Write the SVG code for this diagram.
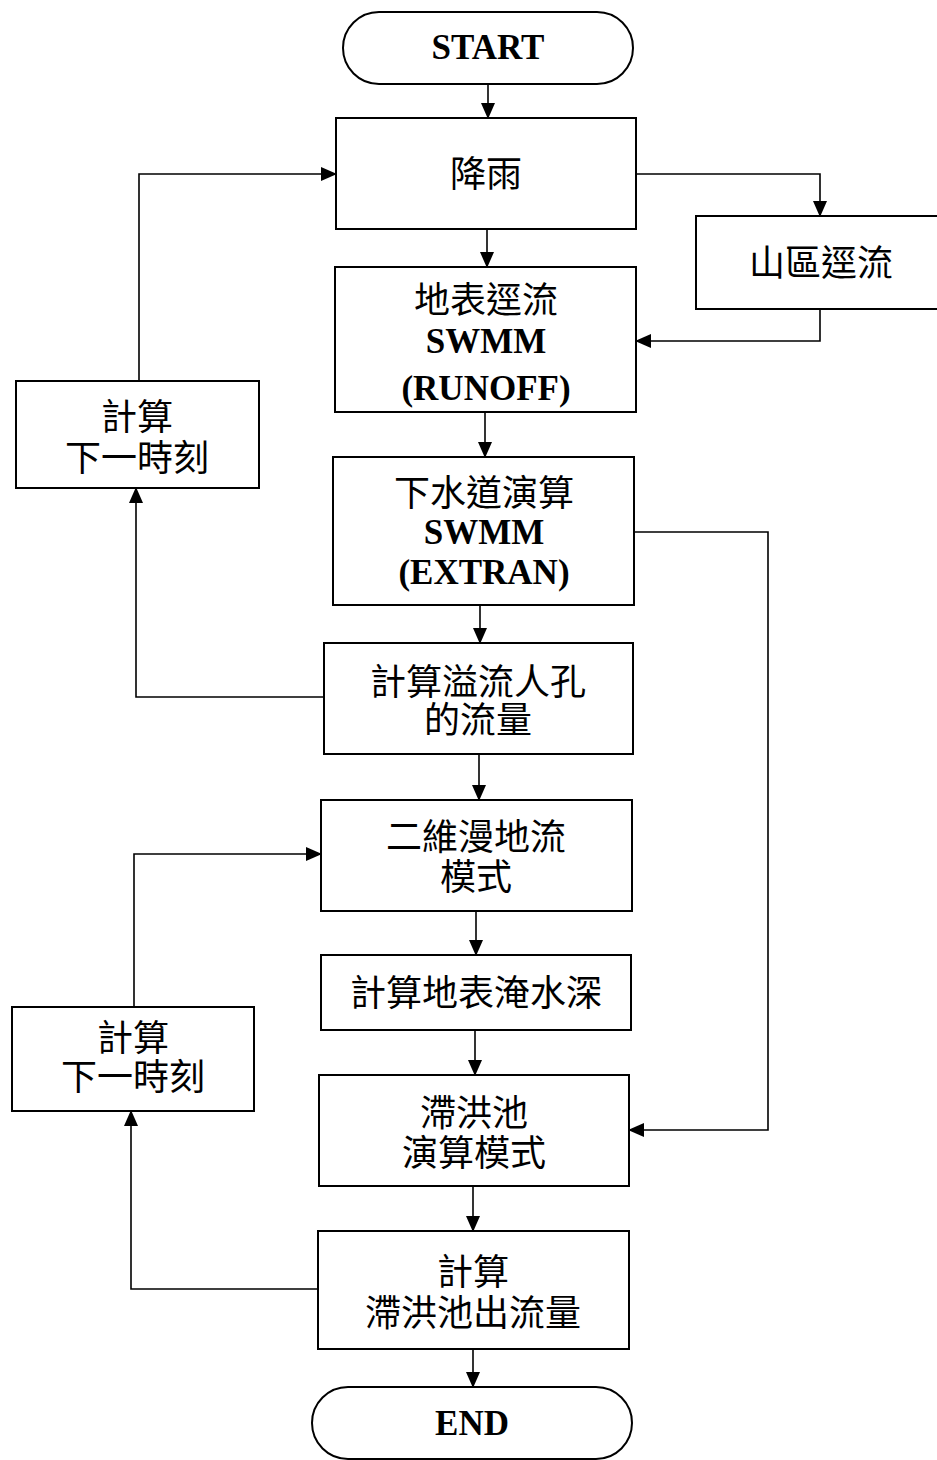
<svg xmlns="http://www.w3.org/2000/svg" width="937" height="1460" viewBox="0 0 937 1460">
<style>
.box{fill:#fff;stroke:#000;stroke-width:2}
.cn{font-family:"Noto Sans CJK TC","Noto Sans CJK SC",sans-serif;font-size:36px;text-anchor:middle;fill:#000}
.en{font-family:"Liberation Serif",serif;font-size:35px;font-weight:bold;text-anchor:middle;fill:#000}
.ln{fill:none;stroke:#000;stroke-width:1.6}
</style>
<defs>
<marker id="ah" markerUnits="userSpaceOnUse" markerWidth="16" markerHeight="14" refX="15" refY="7" orient="auto">
<path d="M0,0 L16,7 L0,14 Z" fill="#000"/>
</marker>
</defs>
<rect width="937" height="1460" fill="#fff"/>
<g id="connectors">
<path class="ln" d="M488,84 V118" marker-end="url(#ah)"/>
<path class="ln" d="M487,229 V267" marker-end="url(#ah)"/>
<path class="ln" d="M636,174 H820 V216" marker-end="url(#ah)"/>
<path class="ln" d="M820,309 V341 H636" marker-end="url(#ah)"/>
<path class="ln" d="M485,412 V457" marker-end="url(#ah)"/>
<path class="ln" d="M480,605 V643" marker-end="url(#ah)"/>
<path class="ln" d="M324,697 H136 V488" marker-end="url(#ah)"/>
<path class="ln" d="M139,381 V174 H336" marker-end="url(#ah)"/>
<path class="ln" d="M634,532 H768 V1130 H629" marker-end="url(#ah)"/>
<path class="ln" d="M479,754 V800" marker-end="url(#ah)"/>
<path class="ln" d="M476,911 V955" marker-end="url(#ah)"/>
<path class="ln" d="M475,1030 V1075" marker-end="url(#ah)"/>
<path class="ln" d="M473,1186 V1231" marker-end="url(#ah)"/>
<path class="ln" d="M318,1289 H131 V1111" marker-end="url(#ah)"/>
<path class="ln" d="M134,1007 V854 H321" marker-end="url(#ah)"/>
<path class="ln" d="M473,1349 V1387" marker-end="url(#ah)"/>
</g>
<g id="start">
<rect class="box" x="343" y="12" width="290" height="72" rx="36"/>
<text class="en" x="488" y="59">START</text>
</g>
<g id="rain">
<rect class="box" x="336" y="118" width="300" height="111"/>
<text class="cn" x="486" y="187">降雨</text>
</g>
<g id="mountain">
<rect class="box" x="696" y="216" width="260" height="93"/>
<text class="cn" x="821" y="276">山區逕流</text>
</g>
<g id="runoff">
<rect class="box" x="335" y="267" width="301" height="145"/>
<text class="cn" x="486" y="313">地表逕流</text>
<text class="en" x="486" y="353">SWMM</text>
<text class="en" x="486" y="400">(RUNOFF)</text>
</g>
<g id="next1">
<rect class="box" x="16" y="381" width="243" height="107"/>
<text class="cn" x="137" y="430">計算</text>
<text class="cn" x="137" y="471">下一時刻</text>
</g>
<g id="extran">
<rect class="box" x="333" y="457" width="301" height="148"/>
<text class="cn" x="484" y="506">下水道演算</text>
<text class="en" x="484" y="544">SWMM</text>
<text class="en" x="484" y="584">(EXTRAN)</text>
</g>
<g id="overflow">
<rect class="box" x="324" y="643" width="309" height="111"/>
<text class="cn" x="478" y="695">計算溢流人孔</text>
<text class="cn" x="478" y="733">的流量</text>
</g>
<g id="flood2d">
<rect class="box" x="321" y="800" width="311" height="111"/>
<text class="cn" x="476" y="850">二維漫地流</text>
<text class="cn" x="476" y="890">模式</text>
</g>
<g id="depth">
<rect class="box" x="321" y="955" width="310" height="75"/>
<text class="cn" x="476" y="1006">計算地表淹水深</text>
</g>
<g id="next2">
<rect class="box" x="12" y="1007" width="242" height="104"/>
<text class="cn" x="133" y="1051">計算</text>
<text class="cn" x="133" y="1090">下一時刻</text>
</g>
<g id="pond">
<rect class="box" x="319" y="1075" width="310" height="111"/>
<text class="cn" x="474" y="1126">滯洪池</text>
<text class="cn" x="474" y="1166">演算模式</text>
</g>
<g id="outflow">
<rect class="box" x="318" y="1231" width="311" height="118"/>
<text class="cn" x="473" y="1285">計算</text>
<text class="cn" x="473" y="1326">滯洪池出流量</text>
</g>
<g id="end">
<rect class="box" x="312" y="1387" width="320" height="72" rx="36"/>
<text class="en" x="472" y="1435">END</text>
</g>
</svg>
